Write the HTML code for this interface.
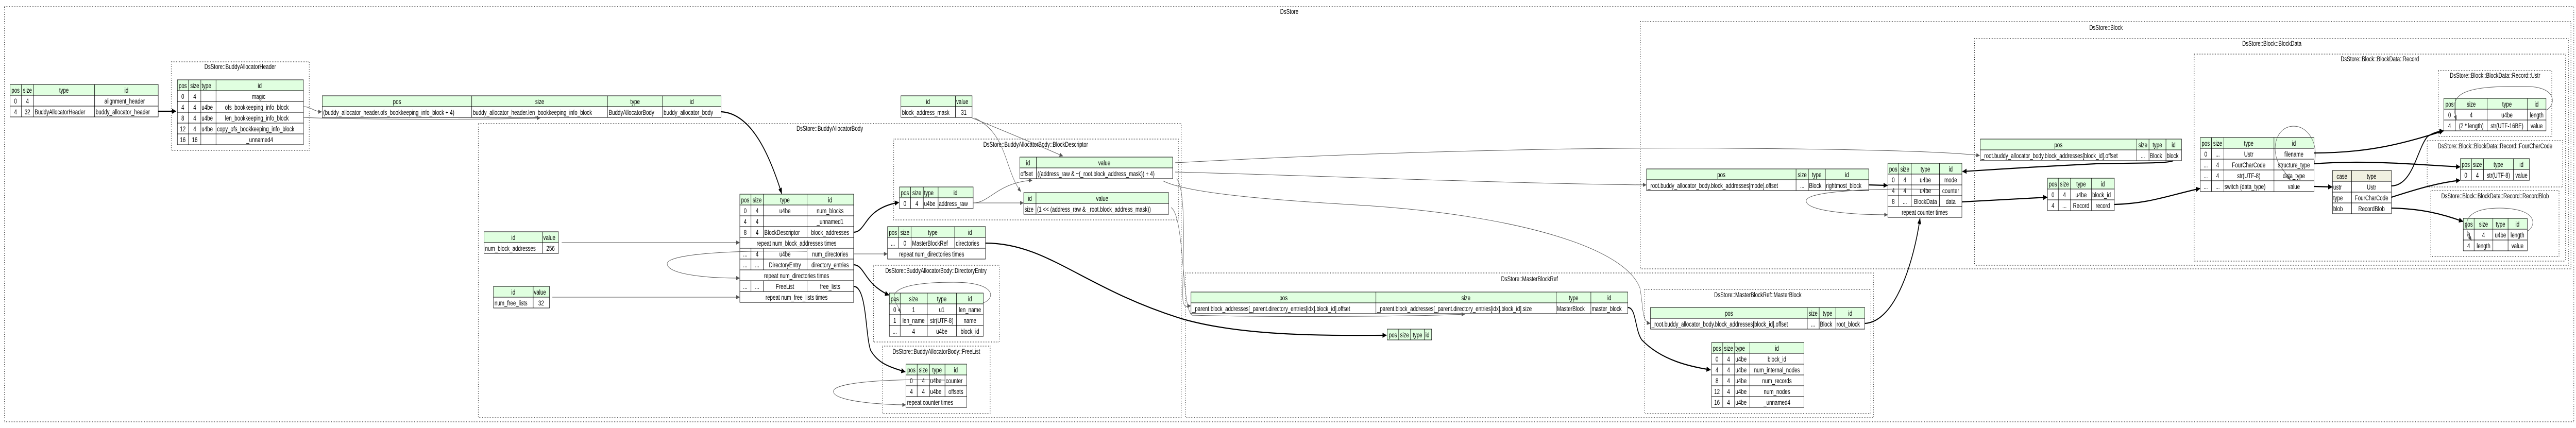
<!DOCTYPE html>
<html><head><meta charset="utf-8"><style>
html,body{margin:0;padding:0;background:#fff;overflow:hidden;width:100%;height:100%}
svg{display:block;width:100vw;height:100vh}
text{font-family:"Liberation Sans",Arial,sans-serif;font-size:14px;fill:#000}
.h{fill:#e0ffe0;stroke:#000;stroke-width:1}
.s{fill:#f0f0e0;stroke:#000;stroke-width:1}
.c{fill:#fff;stroke:#000;stroke-width:1}
.cl{fill:none;stroke:#000;stroke-width:1.2;stroke-dasharray:1.5 3}
.t{fill:none;stroke:#000;stroke-width:2.2}
.g{fill:none;stroke:#555;stroke-width:1}
</style></head><body>
<svg viewBox="0 0 7131 831" preserveAspectRatio="none" xmlns="http://www.w3.org/2000/svg">
<defs>
<marker id="ab" markerUnits="userSpaceOnUse" markerWidth="12" markerHeight="10" refX="11" refY="5" orient="auto"><path d="M0,0 L12,5 L0,10 z" fill="#000"/></marker>
<marker id="ag" markerUnits="userSpaceOnUse" markerWidth="10" markerHeight="8" refX="9" refY="4" orient="auto"><path d="M0,0 L10,4 L0,8 z" fill="#555"/></marker>
</defs>

<!-- clusters -->
<rect class="cl" x="12" y="13" width="7113" height="806"/><text x="3569" y="27" text-anchor="middle">DsStore</text>
<rect class="cl" x="474" y="120" width="382" height="172"/><text x="665" y="134" text-anchor="middle">DsStore::BuddyAllocatorHeader</text>
<rect class="cl" x="1324" y="240" width="1946" height="571"/><text x="2297" y="254" text-anchor="middle">DsStore::BuddyAllocatorBody</text>
<rect class="cl" x="2474" y="270" width="788" height="157"/><text x="2867" y="285" text-anchor="middle">DsStore::BuddyAllocatorBody::BlockDescriptor</text>
<rect class="cl" x="2418" y="515" width="348" height="149"/><text x="2591" y="530" text-anchor="middle">DsStore::BuddyAllocatorBody::DirectoryEntry</text>
<rect class="cl" x="2443" y="672" width="298" height="131"/><text x="2592" y="687" text-anchor="middle">DsStore::BuddyAllocatorBody::FreeList</text>
<rect class="cl" x="3282" y="530" width="1904" height="281"/><text x="4234" y="546" text-anchor="middle">DsStore::MasterBlockRef</text>
<rect class="cl" x="4553" y="562" width="626" height="241"/><text x="4866" y="577" text-anchor="middle">DsStore::MasterBlockRef::MasterBlock</text>
<rect class="cl" x="4541" y="42" width="2576" height="480"/><text x="5830" y="58" text-anchor="middle">DsStore::Block</text>
<rect class="cl" x="5466" y="75" width="1644" height="440"/><text x="6289" y="89" text-anchor="middle">DsStore::Block::BlockData</text>
<rect class="cl" x="6074" y="105" width="1028" height="402"/><text x="6588" y="119" text-anchor="middle">DsStore::Block::BlockData::Record</text>
<rect class="cl" x="6750" y="137" width="314" height="128"/><text x="6907" y="151" text-anchor="middle">DsStore::Block::BlockData::Record::Ustr</text>
<rect class="cl" x="6719" y="273" width="375" height="90"/><text x="6907" y="288" text-anchor="middle">DsStore::Block::BlockData::Record::FourCharCode</text>
<rect class="cl" x="6729" y="370" width="355" height="128"/><text x="6907" y="385" text-anchor="middle">DsStore::Block::BlockData::Record::RecordBlob</text>

<!-- Table A -->
<g>
<rect class="h" x="28" y="164" width="31" height="21"/><rect class="h" x="59" y="164" width="34" height="21"/><rect class="h" x="93" y="164" width="169" height="21"/><rect class="h" x="262" y="164" width="176" height="21"/>
<rect class="c" x="28" y="185" width="31" height="21"/><rect class="c" x="59" y="185" width="34" height="21"/><rect class="c" x="93" y="185" width="169" height="21"/><rect class="c" x="262" y="185" width="176" height="21"/>
<rect class="c" x="28" y="206" width="31" height="21"/><rect class="c" x="59" y="206" width="34" height="21"/><rect class="c" x="93" y="206" width="169" height="21"/><rect class="c" x="262" y="206" width="176" height="21"/>
<text x="43" y="180" text-anchor="middle">pos</text><text x="76" y="180" text-anchor="middle">size</text><text x="177" y="180" text-anchor="middle">type</text><text x="350" y="180" text-anchor="middle">id</text>
<text x="43" y="201" text-anchor="middle">0</text><text x="76" y="201" text-anchor="middle">4</text><text x="345" y="201" text-anchor="middle">alignment_header</text>
<text x="43" y="222" text-anchor="middle">4</text><text x="76" y="222" text-anchor="middle">32</text><text x="96" y="222">BuddyAllocatorHeader</text><text x="265" y="222">buddy_allocator_header</text>
</g>

<!-- Table B -->
<g>
<rect class="h" x="491" y="155" width="31" height="21"/><rect class="h" x="522" y="155" width="34" height="21"/><rect class="h" x="556" y="155" width="42" height="21"/><rect class="h" x="598" y="155" width="242" height="21"/>
<rect class="c" x="491" y="176" width="31" height="21"/><rect class="c" x="522" y="176" width="34" height="21"/><rect class="c" x="556" y="176" width="42" height="21"/><rect class="c" x="598" y="176" width="242" height="21"/>
<rect class="c" x="491" y="197" width="31" height="21"/><rect class="c" x="522" y="197" width="34" height="21"/><rect class="c" x="556" y="197" width="42" height="21"/><rect class="c" x="598" y="197" width="242" height="21"/>
<rect class="c" x="491" y="218" width="31" height="21"/><rect class="c" x="522" y="218" width="34" height="21"/><rect class="c" x="556" y="218" width="42" height="21"/><rect class="c" x="598" y="218" width="242" height="21"/>
<rect class="c" x="491" y="239" width="31" height="21"/><rect class="c" x="522" y="239" width="34" height="21"/><rect class="c" x="556" y="239" width="42" height="21"/><rect class="c" x="598" y="239" width="242" height="21"/>
<rect class="c" x="491" y="260" width="31" height="21"/><rect class="c" x="522" y="260" width="34" height="21"/><rect class="c" x="556" y="260" width="42" height="21"/><rect class="c" x="598" y="260" width="242" height="21"/>
<text x="506" y="171" text-anchor="middle">pos</text><text x="539" y="171" text-anchor="middle">size</text><text x="558" y="171">type</text><text x="719" y="171" text-anchor="middle">id</text>
<text x="506" y="192" text-anchor="middle">0</text><text x="539" y="192" text-anchor="middle">4</text><text x="716" y="192" text-anchor="middle">magic</text>
<text x="506" y="213" text-anchor="middle">4</text><text x="539" y="213" text-anchor="middle">4</text><text x="558" y="213">u4be</text><text x="711" y="213" text-anchor="middle">ofs_bookkeeping_info_block</text>
<text x="506" y="234" text-anchor="middle">8</text><text x="539" y="234" text-anchor="middle">4</text><text x="558" y="234">u4be</text><text x="711" y="234" text-anchor="middle">len_bookkeeping_info_block</text>
<text x="506" y="255" text-anchor="middle">12</text><text x="539" y="255" text-anchor="middle">4</text><text x="558" y="255">u4be</text><text x="601" y="255">copy_ofs_bookkeeping_info_block</text>
<text x="506" y="276" text-anchor="middle">16</text><text x="539" y="276" text-anchor="middle">16</text><text x="719" y="276" text-anchor="middle">_unnamed4</text>
</g>

<!-- Table C -->
<g>
<rect class="h" x="892" y="186" width="414" height="21"/><rect class="h" x="1306" y="186" width="376" height="21"/><rect class="h" x="1682" y="186" width="152" height="21"/><rect class="h" x="1834" y="186" width="162" height="21"/>
<rect class="c" x="892" y="207" width="414" height="21"/><rect class="c" x="1306" y="207" width="376" height="21"/><rect class="c" x="1682" y="207" width="152" height="21"/><rect class="c" x="1834" y="207" width="162" height="21"/>
<text x="1099" y="202" text-anchor="middle">pos</text><text x="1494" y="202" text-anchor="middle">size</text><text x="1758" y="202" text-anchor="middle">type</text><text x="1915" y="202" text-anchor="middle">id</text>
<text x="895" y="223">(buddy_allocator_header.ofs_bookkeeping_info_block + 4)</text><text x="1309" y="223">buddy_allocator_header.len_bookkeeping_info_block</text><text x="1685" y="223">BuddyAllocatorBody</text><text x="1837" y="223">buddy_allocator_body</text>
</g>

<!-- Table D body -->
<g>
<rect class="h" x="2048" y="377" width="31" height="21"/><rect class="h" x="2079" y="377" width="34" height="21"/><rect class="h" x="2113" y="377" width="121" height="21"/><rect class="h" x="2234" y="377" width="129" height="21"/>
<rect class="c" x="2048" y="398" width="31" height="21"/><rect class="c" x="2079" y="398" width="34" height="21"/><rect class="c" x="2113" y="398" width="121" height="21"/><rect class="c" x="2234" y="398" width="129" height="21"/>
<rect class="c" x="2048" y="419" width="31" height="21"/><rect class="c" x="2079" y="419" width="34" height="21"/><rect class="c" x="2113" y="419" width="121" height="21"/><rect class="c" x="2234" y="419" width="129" height="21"/>
<rect class="c" x="2048" y="440" width="31" height="21"/><rect class="c" x="2079" y="440" width="34" height="21"/><rect class="c" x="2113" y="440" width="121" height="21"/><rect class="c" x="2234" y="440" width="129" height="21"/>
<rect class="c" x="2048" y="461" width="315" height="21"/>
<rect class="c" x="2048" y="482" width="31" height="21"/><rect class="c" x="2079" y="482" width="34" height="21"/><rect class="c" x="2113" y="482" width="121" height="21"/><rect class="c" x="2234" y="482" width="129" height="21"/>
<rect class="c" x="2048" y="503" width="31" height="21"/><rect class="c" x="2079" y="503" width="34" height="21"/><rect class="c" x="2113" y="503" width="121" height="21"/><rect class="c" x="2234" y="503" width="129" height="21"/>
<rect class="c" x="2048" y="524" width="315" height="21"/>
<rect class="c" x="2048" y="545" width="31" height="21"/><rect class="c" x="2079" y="545" width="34" height="21"/><rect class="c" x="2113" y="545" width="121" height="21"/><rect class="c" x="2234" y="545" width="129" height="21"/>
<rect class="c" x="2048" y="566" width="315" height="21"/>
<text x="2063" y="393" text-anchor="middle">pos</text><text x="2096" y="393" text-anchor="middle">size</text><text x="2173" y="393" text-anchor="middle">type</text><text x="2298" y="393" text-anchor="middle">id</text>
<text x="2063" y="414" text-anchor="middle">0</text><text x="2096" y="414" text-anchor="middle">4</text><text x="2173" y="414" text-anchor="middle">u4be</text><text x="2298" y="414" text-anchor="middle">num_blocks</text>
<text x="2063" y="435" text-anchor="middle">4</text><text x="2096" y="435" text-anchor="middle">4</text><text x="2298" y="435" text-anchor="middle">_unnamed1</text>
<text x="2063" y="456" text-anchor="middle">8</text><text x="2096" y="456" text-anchor="middle">4</text><text x="2116" y="456">BlockDescriptor</text><text x="2298" y="456" text-anchor="middle">block_addresses</text>
<text x="2205" y="477" text-anchor="middle">repeat num_block_addresses times</text>
<text x="2063" y="498" text-anchor="middle">...</text><text x="2096" y="498" text-anchor="middle">4</text><text x="2173" y="498" text-anchor="middle">u4be</text><text x="2298" y="498" text-anchor="middle">num_directories</text>
<text x="2063" y="519" text-anchor="middle">...</text><text x="2096" y="519" text-anchor="middle">...</text><text x="2173" y="519" text-anchor="middle">DirectoryEntry</text><text x="2298" y="519" text-anchor="middle">directory_entries</text>
<text x="2205" y="540" text-anchor="middle">repeat num_directories times</text>
<text x="2063" y="561" text-anchor="middle">...</text><text x="2096" y="561" text-anchor="middle">...</text><text x="2173" y="561" text-anchor="middle">FreeList</text><text x="2298" y="561" text-anchor="middle">free_lists</text>
<text x="2205" y="582" text-anchor="middle">repeat num_free_lists times</text>
</g>

<!-- params -->
<g>
<rect class="h" x="1340" y="450" width="162" height="21"/><rect class="h" x="1502" y="450" width="44" height="21"/>
<rect class="c" x="1340" y="471" width="162" height="21"/><rect class="c" x="1502" y="471" width="44" height="21"/>
<text x="1421" y="466" text-anchor="middle">id</text><text x="1504" y="466">value</text>
<text x="1343" y="487">num_block_addresses</text><text x="1524" y="487" text-anchor="middle">256</text>
<rect class="h" x="1366" y="556" width="110" height="21"/><rect class="h" x="1476" y="556" width="45" height="21"/>
<rect class="c" x="1366" y="577" width="110" height="21"/><rect class="c" x="1476" y="577" width="45" height="21"/>
<text x="1421" y="572" text-anchor="middle">id</text><text x="1478" y="572">value</text>
<text x="1369" y="593">num_free_lists</text><text x="1498" y="593" text-anchor="middle">32</text>
<rect class="h" x="2494" y="186" width="151" height="21"/><rect class="h" x="2645" y="186" width="46" height="21"/>
<rect class="c" x="2494" y="207" width="151" height="21"/><rect class="c" x="2645" y="207" width="46" height="21"/>
<text x="2569" y="202" text-anchor="middle">id</text><text x="2647" y="202">value</text>
<text x="2497" y="223">block_address_mask</text><text x="2668" y="223" text-anchor="middle">31</text>
</g>

<!-- address_raw -->
<g>
<rect class="h" x="2490" y="363" width="31" height="21"/><rect class="h" x="2521" y="363" width="35" height="21"/><rect class="h" x="2556" y="363" width="41" height="21"/><rect class="h" x="2597" y="363" width="97" height="21"/>
<rect class="c" x="2490" y="384" width="31" height="21"/><rect class="c" x="2521" y="384" width="35" height="21"/><rect class="c" x="2556" y="384" width="41" height="21"/><rect class="c" x="2597" y="384" width="97" height="21"/>
<text x="2505" y="379" text-anchor="middle">pos</text><text x="2538" y="379" text-anchor="middle">size</text><text x="2558" y="379">type</text><text x="2645" y="379" text-anchor="middle">id</text>
<text x="2505" y="400" text-anchor="middle">0</text><text x="2538" y="400" text-anchor="middle">4</text><text x="2558" y="400">u4be</text><text x="2599" y="400">address_raw</text>
</g>
<g>
<rect class="h" x="2823" y="305" width="46" height="21"/><rect class="h" x="2869" y="305" width="377" height="21"/>
<rect class="c" x="2823" y="326" width="46" height="21"/><rect class="c" x="2869" y="326" width="377" height="21"/>
<text x="2846" y="321" text-anchor="middle">id</text><text x="3057" y="321" text-anchor="middle">value</text>
<text x="2825" y="342">offset</text><text x="2872" y="342">((address_raw &amp; ~(_root.block_address_mask)) + 4)</text>
<rect class="h" x="2834" y="374" width="34" height="21"/><rect class="h" x="2868" y="374" width="367" height="21"/>
<rect class="c" x="2834" y="395" width="34" height="21"/><rect class="c" x="2868" y="395" width="367" height="21"/>
<text x="2851" y="390" text-anchor="middle">id</text><text x="3051" y="390" text-anchor="middle">value</text>
<text x="2836" y="411">size</text><text x="2871" y="411">(1 &lt;&lt; (address_raw &amp; _root.block_address_mask))</text>
</g>

<!-- directories -->
<g>
<rect class="h" x="2457" y="440" width="31" height="21"/><rect class="h" x="2488" y="440" width="34" height="21"/><rect class="h" x="2522" y="440" width="121" height="21"/><rect class="h" x="2643" y="440" width="85" height="21"/>
<rect class="c" x="2457" y="461" width="31" height="21"/><rect class="c" x="2488" y="461" width="34" height="21"/><rect class="c" x="2522" y="461" width="121" height="21"/><rect class="c" x="2643" y="461" width="85" height="21"/>
<rect class="c" x="2457" y="482" width="271" height="21"/>
<text x="2472" y="456" text-anchor="middle">pos</text><text x="2505" y="456" text-anchor="middle">size</text><text x="2582" y="456" text-anchor="middle">type</text><text x="2685" y="456" text-anchor="middle">id</text>
<text x="2472" y="477" text-anchor="middle">...</text><text x="2505" y="477" text-anchor="middle">0</text><text x="2525" y="477">MasterBlockRef</text><text x="2646" y="477">directories</text>
<text x="2579" y="498" text-anchor="middle">repeat num_directories times</text>
</g>

<!-- DirectoryEntry -->
<g>
<rect class="h" x="2462" y="569" width="30" height="21"/><rect class="h" x="2492" y="569" width="75" height="21"/><rect class="h" x="2567" y="569" width="81" height="21"/><rect class="h" x="2648" y="569" width="74" height="21"/>
<rect class="c" x="2462" y="590" width="30" height="21"/><rect class="c" x="2492" y="590" width="75" height="21"/><rect class="c" x="2567" y="590" width="81" height="21"/><rect class="c" x="2648" y="590" width="74" height="21"/>
<rect class="c" x="2462" y="611" width="30" height="21"/><rect class="c" x="2492" y="611" width="75" height="21"/><rect class="c" x="2567" y="611" width="81" height="21"/><rect class="c" x="2648" y="611" width="74" height="21"/>
<rect class="c" x="2462" y="632" width="30" height="21"/><rect class="c" x="2492" y="632" width="75" height="21"/><rect class="c" x="2567" y="632" width="81" height="21"/><rect class="c" x="2648" y="632" width="74" height="21"/>
<text x="2477" y="585" text-anchor="middle">pos</text><text x="2529" y="585" text-anchor="middle">size</text><text x="2607" y="585" text-anchor="middle">type</text><text x="2685" y="585" text-anchor="middle">id</text>
<text x="2477" y="606" text-anchor="middle">0</text><text x="2529" y="606" text-anchor="middle">1</text><text x="2607" y="606" text-anchor="middle">u1</text><text x="2685" y="606" text-anchor="middle">len_name</text>
<text x="2477" y="627" text-anchor="middle">1</text><text x="2529" y="627" text-anchor="middle">len_name</text><text x="2607" y="627" text-anchor="middle">str(UTF-8)</text><text x="2685" y="627" text-anchor="middle">name</text>
<text x="2477" y="648" text-anchor="middle">...</text><text x="2529" y="648" text-anchor="middle">4</text><text x="2607" y="648" text-anchor="middle">u4be</text><text x="2685" y="648" text-anchor="middle">block_id</text>
</g>

<!-- FreeList -->
<g>
<rect class="h" x="2508" y="707" width="31" height="21"/><rect class="h" x="2539" y="707" width="34" height="21"/><rect class="h" x="2573" y="707" width="43" height="21"/><rect class="h" x="2616" y="707" width="60" height="21"/>
<rect class="c" x="2508" y="728" width="31" height="21"/><rect class="c" x="2539" y="728" width="34" height="21"/><rect class="c" x="2573" y="728" width="43" height="21"/><rect class="c" x="2616" y="728" width="60" height="21"/>
<rect class="c" x="2508" y="749" width="31" height="21"/><rect class="c" x="2539" y="749" width="34" height="21"/><rect class="c" x="2573" y="749" width="43" height="21"/><rect class="c" x="2616" y="749" width="60" height="21"/>
<rect class="c" x="2508" y="770" width="168" height="21"/>
<text x="2523" y="723" text-anchor="middle">pos</text><text x="2556" y="723" text-anchor="middle">size</text><text x="2594" y="723" text-anchor="middle">type</text><text x="2646" y="723" text-anchor="middle">id</text>
<text x="2523" y="744" text-anchor="middle">0</text><text x="2556" y="744" text-anchor="middle">4</text><text x="2575" y="744">u4be</text><text x="2618" y="744">counter</text>
<text x="2523" y="765" text-anchor="middle">4</text><text x="2556" y="765" text-anchor="middle">4</text><text x="2575" y="765">u4be</text><text x="2646" y="765" text-anchor="middle">offsets</text>
<text x="2511" y="786">repeat counter times</text>
</g>

<!-- empty table -->
<g>
<rect class="h" x="3840" y="639" width="32" height="21"/><rect class="h" x="3872" y="639" width="33" height="21"/><rect class="h" x="3905" y="639" width="38" height="21"/><rect class="h" x="3943" y="639" width="20" height="21"/>
<text x="3856" y="655" text-anchor="middle">pos</text><text x="3888" y="655" text-anchor="middle">size</text><text x="3924" y="655" text-anchor="middle">type</text><text x="3946" y="655">id</text>
</g>

<!-- MasterBlockRef -->
<g>
<rect class="h" x="3297" y="567" width="512" height="21"/><rect class="h" x="3809" y="567" width="499" height="21"/><rect class="h" x="4308" y="567" width="96" height="21"/><rect class="h" x="4404" y="567" width="102" height="21"/>
<rect class="c" x="3297" y="588" width="512" height="21"/><rect class="c" x="3809" y="588" width="499" height="21"/><rect class="c" x="4308" y="588" width="96" height="21"/><rect class="c" x="4404" y="588" width="102" height="21"/>
<text x="3553" y="583" text-anchor="middle">pos</text><text x="4058" y="583" text-anchor="middle">size</text><text x="4356" y="583" text-anchor="middle">type</text><text x="4455" y="583" text-anchor="middle">id</text>
<text x="3300" y="604">_parent.block_addresses[_parent.directory_entries[idx].block_id].offset</text><text x="3812" y="604">_parent.block_addresses[_parent.directory_entries[idx].block_id].size</text><text x="4310" y="604">MasterBlock</text><text x="4406" y="604">master_block</text>
</g>

<!-- MasterBlock -->
<g>
<rect class="h" x="4569" y="597" width="434" height="21"/><rect class="h" x="5003" y="597" width="33" height="21"/><rect class="h" x="5036" y="597" width="46" height="21"/><rect class="h" x="5082" y="597" width="80" height="21"/>
<rect class="c" x="4569" y="618" width="434" height="21"/><rect class="c" x="5003" y="618" width="33" height="21"/><rect class="c" x="5036" y="618" width="46" height="21"/><rect class="c" x="5082" y="618" width="80" height="21"/>
<text x="4786" y="613" text-anchor="middle">pos</text><text x="5019" y="613" text-anchor="middle">size</text><text x="5059" y="613" text-anchor="middle">type</text><text x="5122" y="613" text-anchor="middle">id</text>
<text x="4572" y="634">_root.buddy_allocator_body.block_addresses[block_id].offset</text><text x="5019" y="634" text-anchor="middle">...</text><text x="5038" y="634">Block</text><text x="5084" y="634">root_block</text>
</g>
<g>
<rect class="h" x="4738" y="665" width="31" height="21"/><rect class="h" x="4769" y="665" width="33" height="21"/><rect class="h" x="4802" y="665" width="42" height="21"/><rect class="h" x="4844" y="665" width="150" height="21"/>
<rect class="c" x="4738" y="686" width="31" height="21"/><rect class="c" x="4769" y="686" width="33" height="21"/><rect class="c" x="4802" y="686" width="42" height="21"/><rect class="c" x="4844" y="686" width="150" height="21"/>
<rect class="c" x="4738" y="707" width="31" height="21"/><rect class="c" x="4769" y="707" width="33" height="21"/><rect class="c" x="4802" y="707" width="42" height="21"/><rect class="c" x="4844" y="707" width="150" height="21"/>
<rect class="c" x="4738" y="728" width="31" height="21"/><rect class="c" x="4769" y="728" width="33" height="21"/><rect class="c" x="4802" y="728" width="42" height="21"/><rect class="c" x="4844" y="728" width="150" height="21"/>
<rect class="c" x="4738" y="749" width="31" height="21"/><rect class="c" x="4769" y="749" width="33" height="21"/><rect class="c" x="4802" y="749" width="42" height="21"/><rect class="c" x="4844" y="749" width="150" height="21"/>
<rect class="c" x="4738" y="770" width="31" height="21"/><rect class="c" x="4769" y="770" width="33" height="21"/><rect class="c" x="4802" y="770" width="42" height="21"/><rect class="c" x="4844" y="770" width="150" height="21"/>
<text x="4753" y="681" text-anchor="middle">pos</text><text x="4785" y="681" text-anchor="middle">size</text><text x="4804" y="681">type</text><text x="4919" y="681" text-anchor="middle">id</text>
<text x="4753" y="702" text-anchor="middle">0</text><text x="4785" y="702" text-anchor="middle">4</text><text x="4804" y="702">u4be</text><text x="4919" y="702" text-anchor="middle">block_id</text>
<text x="4753" y="723" text-anchor="middle">4</text><text x="4785" y="723" text-anchor="middle">4</text><text x="4804" y="723">u4be</text><text x="4919" y="723" text-anchor="middle">num_internal_nodes</text>
<text x="4753" y="744" text-anchor="middle">8</text><text x="4785" y="744" text-anchor="middle">4</text><text x="4804" y="744">u4be</text><text x="4919" y="744" text-anchor="middle">num_records</text>
<text x="4753" y="765" text-anchor="middle">12</text><text x="4785" y="765" text-anchor="middle">4</text><text x="4804" y="765">u4be</text><text x="4919" y="765" text-anchor="middle">num_nodes</text>
<text x="4753" y="786" text-anchor="middle">16</text><text x="4785" y="786" text-anchor="middle">4</text><text x="4804" y="786">u4be</text><text x="4919" y="786" text-anchor="middle">_unnamed4</text>
</g>

<!-- rightmost_block -->
<g>
<rect class="h" x="4558" y="328" width="414" height="21"/><rect class="h" x="4972" y="328" width="34" height="21"/><rect class="h" x="5006" y="328" width="47" height="21"/><rect class="h" x="5053" y="328" width="120" height="21"/>
<rect class="c" x="4558" y="349" width="414" height="21"/><rect class="c" x="4972" y="349" width="34" height="21"/><rect class="c" x="5006" y="349" width="47" height="21"/><rect class="c" x="5053" y="349" width="120" height="21"/>
<text x="4765" y="344" text-anchor="middle">pos</text><text x="4989" y="344" text-anchor="middle">size</text><text x="5029" y="344" text-anchor="middle">type</text><text x="5113" y="344" text-anchor="middle">id</text>
<text x="4561" y="365">_root.buddy_allocator_body.block_addresses[mode].offset</text><text x="4989" y="365" text-anchor="middle">...</text><text x="5008" y="365">Block</text><text x="5055" y="365">rightmost_block</text>
</g>

<!-- Block seq -->
<g>
<rect class="h" x="5226" y="317" width="30" height="21"/><rect class="h" x="5256" y="317" width="35" height="21"/><rect class="h" x="5291" y="317" width="78" height="21"/><rect class="h" x="5369" y="317" width="62" height="21"/>
<rect class="c" x="5226" y="338" width="30" height="21"/><rect class="c" x="5256" y="338" width="35" height="21"/><rect class="c" x="5291" y="338" width="78" height="21"/><rect class="c" x="5369" y="338" width="62" height="21"/>
<rect class="c" x="5226" y="359" width="30" height="21"/><rect class="c" x="5256" y="359" width="35" height="21"/><rect class="c" x="5291" y="359" width="78" height="21"/><rect class="c" x="5369" y="359" width="62" height="21"/>
<rect class="c" x="5226" y="380" width="30" height="21"/><rect class="c" x="5256" y="380" width="35" height="21"/><rect class="c" x="5291" y="380" width="78" height="21"/><rect class="c" x="5369" y="380" width="62" height="21"/>
<rect class="c" x="5226" y="401" width="205" height="21"/>
<text x="5241" y="333" text-anchor="middle">pos</text><text x="5273" y="333" text-anchor="middle">size</text><text x="5330" y="333" text-anchor="middle">type</text><text x="5400" y="333" text-anchor="middle">id</text>
<text x="5241" y="354" text-anchor="middle">0</text><text x="5273" y="354" text-anchor="middle">4</text><text x="5330" y="354" text-anchor="middle">u4be</text><text x="5400" y="354" text-anchor="middle">mode</text>
<text x="5241" y="375" text-anchor="middle">4</text><text x="5273" y="375" text-anchor="middle">4</text><text x="5330" y="375" text-anchor="middle">u4be</text><text x="5400" y="375" text-anchor="middle">counter</text>
<text x="5241" y="396" text-anchor="middle">8</text><text x="5273" y="396" text-anchor="middle">...</text><text x="5330" y="396" text-anchor="middle">BlockData</text><text x="5400" y="396" text-anchor="middle">data</text>
<text x="5328" y="417" text-anchor="middle">repeat counter times</text>
</g>

<!-- block inst -->
<g>
<rect class="h" x="5482" y="270" width="433" height="21"/><rect class="h" x="5915" y="270" width="34" height="21"/><rect class="h" x="5949" y="270" width="47" height="21"/><rect class="h" x="5996" y="270" width="43" height="21"/>
<rect class="c" x="5482" y="291" width="433" height="21"/><rect class="c" x="5915" y="291" width="34" height="21"/><rect class="c" x="5949" y="291" width="47" height="21"/><rect class="c" x="5996" y="291" width="43" height="21"/>
<text x="5698" y="286" text-anchor="middle">pos</text><text x="5932" y="286" text-anchor="middle">size</text><text x="5972" y="286" text-anchor="middle">type</text><text x="6017" y="286" text-anchor="middle">id</text>
<text x="5485" y="307">_root.buddy_allocator_body.block_addresses[block_id].offset</text><text x="5932" y="307" text-anchor="middle">...</text><text x="5951" y="307">Block</text><text x="5998" y="307">block</text>
</g>

<!-- BlockData seq -->
<g>
<rect class="h" x="5668" y="346" width="30" height="21"/><rect class="h" x="5698" y="346" width="34" height="21"/><rect class="h" x="5732" y="346" width="58" height="21"/><rect class="h" x="5790" y="346" width="63" height="21"/>
<rect class="c" x="5668" y="367" width="30" height="21"/><rect class="c" x="5698" y="367" width="34" height="21"/><rect class="c" x="5732" y="367" width="58" height="21"/><rect class="c" x="5790" y="367" width="63" height="21"/>
<rect class="c" x="5668" y="388" width="30" height="21"/><rect class="c" x="5698" y="388" width="34" height="21"/><rect class="c" x="5732" y="388" width="58" height="21"/><rect class="c" x="5790" y="388" width="63" height="21"/>
<text x="5683" y="362" text-anchor="middle">pos</text><text x="5715" y="362" text-anchor="middle">size</text><text x="5761" y="362" text-anchor="middle">type</text><text x="5821" y="362" text-anchor="middle">id</text>
<text x="5683" y="383" text-anchor="middle">0</text><text x="5715" y="383" text-anchor="middle">4</text><text x="5761" y="383" text-anchor="middle">u4be</text><text x="5792" y="383">block_id</text>
<text x="5683" y="404" text-anchor="middle">4</text><text x="5715" y="404" text-anchor="middle">...</text><text x="5761" y="404" text-anchor="middle">Record</text><text x="5821" y="404" text-anchor="middle">record</text>
</g>

<!-- Record seq -->
<g>
<rect class="h" x="6091" y="267" width="31" height="21"/><rect class="h" x="6122" y="267" width="34" height="21"/><rect class="h" x="6156" y="267" width="139" height="21"/><rect class="h" x="6295" y="267" width="111" height="21"/>
<rect class="c" x="6091" y="288" width="31" height="21"/><rect class="c" x="6122" y="288" width="34" height="21"/><rect class="c" x="6156" y="288" width="139" height="21"/><rect class="c" x="6295" y="288" width="111" height="21"/>
<rect class="c" x="6091" y="309" width="31" height="21"/><rect class="c" x="6122" y="309" width="34" height="21"/><rect class="c" x="6156" y="309" width="139" height="21"/><rect class="c" x="6295" y="309" width="111" height="21"/>
<rect class="c" x="6091" y="330" width="31" height="21"/><rect class="c" x="6122" y="330" width="34" height="21"/><rect class="c" x="6156" y="330" width="139" height="21"/><rect class="c" x="6295" y="330" width="111" height="21"/>
<rect class="c" x="6091" y="351" width="31" height="21"/><rect class="c" x="6122" y="351" width="34" height="21"/><rect class="c" x="6156" y="351" width="139" height="21"/><rect class="c" x="6295" y="351" width="111" height="21"/>
<text x="6106" y="283" text-anchor="middle">pos</text><text x="6139" y="283" text-anchor="middle">size</text><text x="6225" y="283" text-anchor="middle">type</text><text x="6350" y="283" text-anchor="middle">id</text>
<text x="6106" y="304" text-anchor="middle">0</text><text x="6139" y="304" text-anchor="middle">...</text><text x="6225" y="304" text-anchor="middle">Ustr</text><text x="6350" y="304" text-anchor="middle">filename</text>
<text x="6106" y="325" text-anchor="middle">...</text><text x="6139" y="325" text-anchor="middle">4</text><text x="6225" y="325" text-anchor="middle">FourCharCode</text><text x="6350" y="325" text-anchor="middle">structure_type</text>
<text x="6106" y="346" text-anchor="middle">...</text><text x="6139" y="346" text-anchor="middle">4</text><text x="6225" y="346" text-anchor="middle">str(UTF-8)</text><text x="6350" y="346" text-anchor="middle">data_type</text>
<text x="6106" y="367" text-anchor="middle">...</text><text x="6139" y="367" text-anchor="middle">...</text><text x="6158" y="367">switch (data_type)</text><text x="6350" y="367" text-anchor="middle">value</text>
</g>

<!-- switch -->
<g>
<rect class="s" x="6457" y="331" width="53" height="21"/><rect class="s" x="6510" y="331" width="110" height="21"/>
<rect class="c" x="6457" y="352" width="53" height="21"/><rect class="c" x="6510" y="352" width="110" height="21"/>
<rect class="c" x="6457" y="373" width="53" height="21"/><rect class="c" x="6510" y="373" width="110" height="21"/>
<rect class="c" x="6457" y="394" width="53" height="21"/><rect class="c" x="6510" y="394" width="110" height="21"/>
<text x="6483" y="347" text-anchor="middle">case</text><text x="6565" y="347" text-anchor="middle">type</text>
<text x="6459" y="368">ustr</text><text x="6565" y="368" text-anchor="middle">Ustr</text>
<text x="6459" y="389">type</text><text x="6565" y="389" text-anchor="middle">FourCharCode</text>
<text x="6459" y="410">blob</text><text x="6565" y="410" text-anchor="middle">RecordBlob</text>
</g>

<!-- Ustr -->
<g>
<rect class="h" x="6765" y="191" width="32" height="21"/><rect class="h" x="6797" y="191" width="88" height="21"/><rect class="h" x="6885" y="191" width="111" height="21"/><rect class="h" x="6996" y="191" width="52" height="21"/>
<rect class="c" x="6765" y="212" width="32" height="21"/><rect class="c" x="6797" y="212" width="88" height="21"/><rect class="c" x="6885" y="212" width="111" height="21"/><rect class="c" x="6996" y="212" width="52" height="21"/>
<rect class="c" x="6765" y="233" width="32" height="21"/><rect class="c" x="6797" y="233" width="88" height="21"/><rect class="c" x="6885" y="233" width="111" height="21"/><rect class="c" x="6996" y="233" width="52" height="21"/>
<text x="6781" y="207" text-anchor="middle">pos</text><text x="6841" y="207" text-anchor="middle">size</text><text x="6940" y="207" text-anchor="middle">type</text><text x="7022" y="207" text-anchor="middle">id</text>
<text x="6781" y="228" text-anchor="middle">0</text><text x="6841" y="228" text-anchor="middle">4</text><text x="6940" y="228" text-anchor="middle">u4be</text><text x="7022" y="228" text-anchor="middle">length</text>
<text x="6781" y="249" text-anchor="middle">4</text><text x="6841" y="249" text-anchor="middle">(2 * length)</text><text x="6940" y="249" text-anchor="middle">str(UTF-16BE)</text><text x="7022" y="249" text-anchor="middle">value</text>
</g>

<!-- FCC -->
<g>
<rect class="h" x="6811" y="308" width="31" height="21"/><rect class="h" x="6842" y="308" width="33" height="21"/><rect class="h" x="6875" y="308" width="83" height="21"/><rect class="h" x="6958" y="308" width="44" height="21"/>
<rect class="c" x="6811" y="329" width="31" height="21"/><rect class="c" x="6842" y="329" width="33" height="21"/><rect class="c" x="6875" y="329" width="83" height="21"/><rect class="c" x="6958" y="329" width="44" height="21"/>
<text x="6826" y="324" text-anchor="middle">pos</text><text x="6858" y="324" text-anchor="middle">size</text><text x="6916" y="324" text-anchor="middle">type</text><text x="6980" y="324" text-anchor="middle">id</text>
<text x="6826" y="345" text-anchor="middle">0</text><text x="6858" y="345" text-anchor="middle">4</text><text x="6916" y="345" text-anchor="middle">str(UTF-8)</text><text x="6980" y="345" text-anchor="middle">value</text>
</g>

<!-- RecordBlob -->
<g>
<rect class="h" x="6819" y="424" width="30" height="21"/><rect class="h" x="6849" y="424" width="52" height="21"/><rect class="h" x="6901" y="424" width="42" height="21"/><rect class="h" x="6943" y="424" width="53" height="21"/>
<rect class="c" x="6819" y="445" width="30" height="21"/><rect class="c" x="6849" y="445" width="52" height="21"/><rect class="c" x="6901" y="445" width="42" height="21"/><rect class="c" x="6943" y="445" width="53" height="21"/>
<rect class="c" x="6819" y="466" width="30" height="21"/><rect class="c" x="6849" y="466" width="52" height="21"/><rect class="c" x="6901" y="466" width="42" height="21"/><rect class="c" x="6943" y="466" width="53" height="21"/>
<text x="6834" y="440" text-anchor="middle">pos</text><text x="6875" y="440" text-anchor="middle">size</text><text x="6922" y="440" text-anchor="middle">type</text><text x="6969" y="440" text-anchor="middle">id</text>
<text x="6834" y="461" text-anchor="middle">0</text><text x="6875" y="461" text-anchor="middle">4</text><text x="6922" y="461" text-anchor="middle">u4be</text><text x="6969" y="461" text-anchor="middle">length</text>
<text x="6834" y="482" text-anchor="middle">4</text><text x="6875" y="482" text-anchor="middle">length</text><text x="6969" y="482" text-anchor="middle">value</text>
</g>

<!-- edges -->
<g>
<path class="t" marker-end="url(#ab)" d="M438,216 L487,216"/>
<path class="g" marker-end="url(#ag)" d="M840,207 C860,207 870,217 890,217"/>
<path class="g" marker-end="url(#ag)" d="M840,228 C1000,233 1400,232 1495,229"/>
<path class="t" marker-end="url(#ab)" d="M1996,217 C2080,220 2130,300 2164,376"/>
<path class="g" marker-end="url(#ag)" d="M1555,471 L2047,471"/>
<path class="g" marker-end="url(#ag)" d="M1529,577 L2047,577"/>
<path class="g" marker-end="url(#ag)" d="M2234,488 C2000,485 1847,495 1847,512 C1847,532 1950,540 2047,540"/>
<path class="t" marker-end="url(#ab)" d="M2363,451 C2400,450 2390,405 2488,393"/>
<path class="g" marker-end="url(#ag)" d="M2363,493 L2456,493"/>
<path class="t" marker-end="url(#ab)" d="M2363,514 C2395,515 2390,550 2461,573"/>
<path class="t" marker-end="url(#ab)" d="M2363,556 C2400,556 2395,650 2410,680 C2430,705 2460,712 2506,722"/>
<path class="g" marker-end="url(#ag)" d="M2616,738 C2500,735 2307,740 2307,760 C2307,780 2450,786 2507,786"/>
<path class="g" marker-end="url(#ag)" d="M2694,394 C2740,394 2760,355 2857,350"/>
<path class="g" marker-end="url(#ag)" d="M2694,394 L2833,394"/>
<path class="g" marker-end="url(#ag)" d="M2691,229 C2800,260 2900,290 2942,303"/>
<path class="g" marker-end="url(#ag)" d="M2698,229 C2790,260 2780,330 2826,372"/>
<path class="g" marker-end="url(#ag)" d="M2722,588 C2755,580 2760,548 2640,548 C2520,548 2460,560 2478,585 L2494,607"/>
<path class="t" marker-end="url(#ab)" d="M2728,472 C2900,472 3000,560 3272,619 C3450,655 3700,651 3838,651"/>
<path class="g" marker-end="url(#ag)" d="M3253,316 C3800,295 4400,285 4800,288 C5200,290 5400,295 5480,302"/>
<path class="g" marker-end="url(#ag)" d="M3253,334 C3600,340 4200,357 4557,359"/>
<path class="g" marker-end="url(#ag)" d="M3219,351 C3300,380 3600,391 3800,400 C4200,420 4500,480 4540,560 C4550,600 4545,625 4568,628"/>
<path class="g" marker-end="url(#ag)" d="M3257,347 C3290,370 3270,560 3275,585 C3280,600 3285,594 3296,594"/>
<path class="g" marker-end="url(#ag)" d="M3242,403 C3280,420 3270,600 3300,612 C3500,616 3900,615 4055,610"/>
<path class="t" marker-end="url(#ab)" d="M4506,597 C4530,597 4525,640 4545,660 C4600,700 4680,712 4735,718"/>
<path class="t" marker-end="url(#ab)" d="M5162,628 C5250,625 5300,500 5315,424"/>
<path class="t" marker-end="url(#ab)" d="M5173,359 L5225,360"/>
<path class="g" marker-end="url(#ag)" d="M5369,368 C5200,365 5000,370 5000,390 C5000,412 5150,417 5225,417"/>
<path class="t" marker-end="url(#ab)" d="M6016,312 C6000,318 5900,316 5800,318 C5600,325 5500,330 5433,333"/>
<path class="t" marker-end="url(#ab)" d="M5431,392 L5667,383"/>
<path class="t" marker-end="url(#ab)" d="M5853,397 C5950,395 6000,380 6090,366"/>
<path class="g" marker-end="url(#ag)" d="M6406,318 C6420,280 6390,245 6350,245 C6300,245 6285,290 6310,320 L6340,349"/>
<path class="t" marker-end="url(#ab)" d="M6406,362 L6456,363"/>
<path class="t" marker-end="url(#ab)" d="M6406,297 C6550,297 6650,280 6764,254"/>
<path class="t" marker-end="url(#ab)" d="M6406,318 C6550,310 6700,320 6810,324"/>
<path class="t" marker-end="url(#ab)" d="M6620,361 C6680,360 6690,290 6720,265 C6735,258 6750,255 6764,254"/>
<path class="t" marker-end="url(#ab)" d="M6620,383 C6700,365 6750,355 6810,350"/>
<path class="t" marker-end="url(#ab)" d="M6620,404 C6700,405 6760,415 6818,430"/>
<path class="g" marker-end="url(#ag)" d="M7048,214 C7075,205 7080,170 7000,168 C6800,165 6780,185 6800,233"/>
<path class="g" marker-end="url(#ag)" d="M6996,449 C7020,440 7030,405 6920,404 C6830,404 6810,430 6842,467"/>
</g>
</svg>
</body></html>
